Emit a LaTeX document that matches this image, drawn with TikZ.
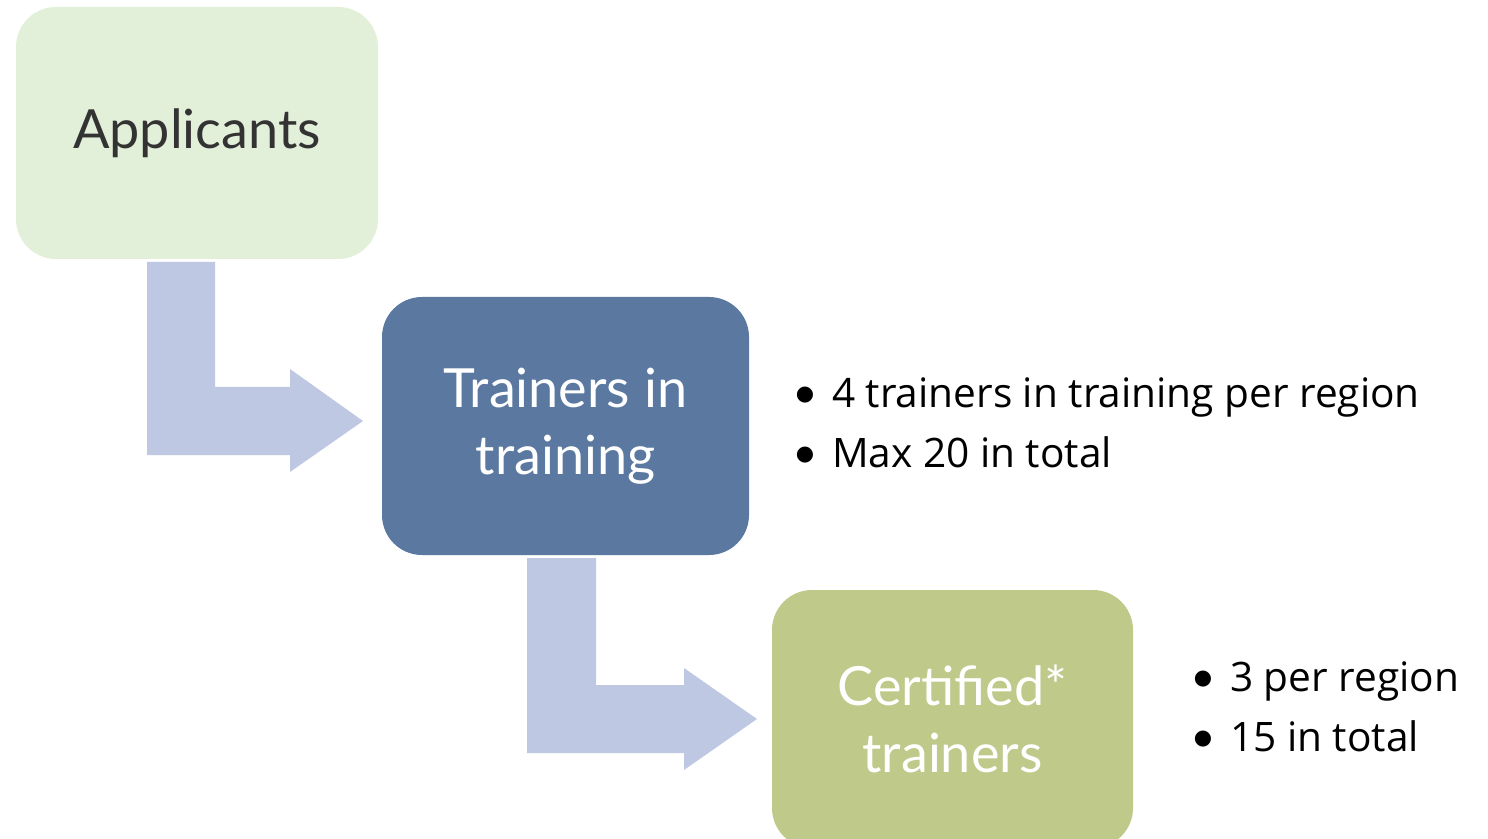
\documentclass[tikz,border=0pt]{standalone}
\usepackage{fontspec}
\setmainfont{Open Sans}
\newfontfamily\stagefont{Lato}
\newfontfamily\dotfont{DejaVu Sans}
\usetikzlibrary{positioning}
\definecolor{applicantfill}{HTML}{E2EFD9}
\definecolor{trainingfill}{HTML}{5A78A0}
\definecolor{certifiedfill}{HTML}{BFC98A}
\definecolor{flowfill}{HTML}{BFC8E3}
\definecolor{darktext}{HTML}{333333}
\newcommand{\notedot}{\raisebox{3.8pt}{\dotfont\fontsize{10.5}{10.5}\selectfont ●}\hspace{9pt}}

\begin{document}
\begin{tikzpicture}[x=0.5pt,y=-0.5pt]
	\tikzstyle{stage}=[rectangle, rounded corners=20pt, inner sep=0pt, align=center, font=\stagefont\fontsize{27}{33.5}\selectfont]
	\tikzstyle{notes}=[align=left, inner sep=0pt, font=\fontsize{20.3}{30}\selectfont]
	\tikzstyle{flow}=[fill=flowfill]
	\useasboundingbox (0,0) rectangle (1488,839);
	\node[stage, fill=applicantfill, text=darktext, minimum width=181pt, minimum height=126pt] (applicants) at (197,133) {Applicants};
	\node[stage, fill=trainingfill, text=white, minimum width=183.5pt, minimum height=129pt] (training) at (565.5,426) {Trainers in\\training};
	\node[stage, fill=certifiedfill, text=white, minimum width=180.5pt, minimum height=129pt] (certified) at (952.5,719) {Certified*\\trainers};
	\node[notes, right=23pt of training, yshift=1.5pt] (trainingnotes) {\notedot 4 trainers in training per region\\\notedot Max 20 in total};
	\node[notes, right=30pt of certified, yshift=6pt] (certifiednotes) {\notedot 3 per region\\\notedot 15 in total};
	% bent arrows between stages
	\fill[flow] (147,262) -- (215,262) -- (215,387) -- (290,387) -- (290,369) -- (363,421) -- (290,472) -- (290,455) -- (147,455) -- cycle;
	\fill[flow] (527,558) -- (596,558) -- (596,685) -- (684,685) -- (684,668) -- (757,719) -- (684,770) -- (684,753) -- (527,753) -- cycle;
\end{tikzpicture}
\end{document}
